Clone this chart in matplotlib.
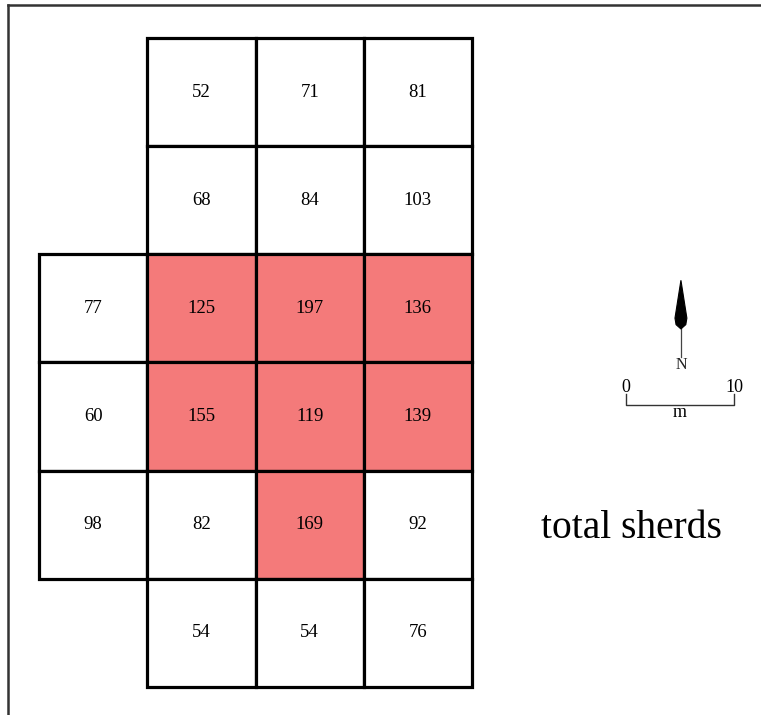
import matplotlib.pyplot as plt
from matplotlib.patches import Rectangle, Polygon
from matplotlib.lines import Line2D

plt.rcParams['font.family'] = ['Liberation Serif', 'DejaVu Serif']

# sherd counts per 10 m collection unit, rows north -> south (None = not collected)
row_a = [None, 52, 71, 81]
row_b = [None, 68, 84, 103]
row_c = [77, 125, 197, 136]
row_d = [60, 155, 119, 139]
row_e = [98, 82, 169, 92]
row_f = [None, 54, 54, 76]
counts = [row_a, row_b, row_c, row_d, row_e, row_f]

high_min = 110      # units at or above this get shaded
cell_m = 10         # size of one unit in metres
scale_len = 10

fig = plt.figure(figsize=(7.61, 7.15), dpi=100)
ax = fig.add_axes([0, 0, 1, 1])
ax.set_xlim(-3.603, 66.697)
ax.set_ylim(62.59, -3.513)
ax.axis('off')

for r, row in enumerate(counts):
    for c, v in enumerate(row):
        if v is None:
            continue
        fc = '#F47A7A' if v >= high_min else 'white'
        ax.add_patch(Rectangle((c * cell_m, r * cell_m), cell_m, cell_m,
                               facecolor=fc, edgecolor='black', lw=2.3, zorder=1))
        ax.text(c * cell_m + cell_m / 2, r * cell_m + cell_m / 2, str(v),
                ha='center', va='center', fontsize=13.5, zorder=3)

# north arrow
nx, ny = 59.3, 22.4
arrow = Polygon([(nx, ny), (nx + 0.55, ny + 3.5), (nx + 0.45, ny + 4.1),
                 (nx, ny + 4.5), (nx - 0.45, ny + 4.1), (nx - 0.55, ny + 3.5)],
                closed=True, facecolor='black', edgecolor='black', lw=0.8, zorder=3)
ax.add_patch(arrow)
ax.plot([nx, nx], [ny + 4.3, ny + 7.1], color='#444444', lw=0.9)
ax.text(nx, ny + 7.85, 'N', ha='center', va='center', fontsize=11.5, color='#222222')

# scale bar
sx, sy = 54.2, 33.9
ax.plot([sx, sx, sx + scale_len, sx + scale_len], [sy - 0.95, sy, sy, sy - 0.95],
        color='#333333', lw=1.0)
ax.text(sx, sy - 1.55, '0', ha='center', va='center', fontsize=13)
ax.text(sx + scale_len, sy - 1.55, '10', ha='center', va='center', fontsize=13)
ax.text(sx + scale_len / 2, sy + 0.75, 'm', ha='center', va='center', fontsize=13)

ax.text(54.7, 46.2, 'total sherds', ha='center', va='baseline', fontsize=28.5)

# partial frame around the plate
fig.add_artist(Line2D([8 / 761, 8 / 761], [0, 1 - 5 / 715], transform=fig.transFigure,
                      color='#333333', lw=1.8))
fig.add_artist(Line2D([8 / 761, 1], [1 - 5 / 715, 1 - 5 / 715], transform=fig.transFigure,
                      color='#333333', lw=1.8))

fig.savefig('out.png', dpi=100, facecolor='white')
